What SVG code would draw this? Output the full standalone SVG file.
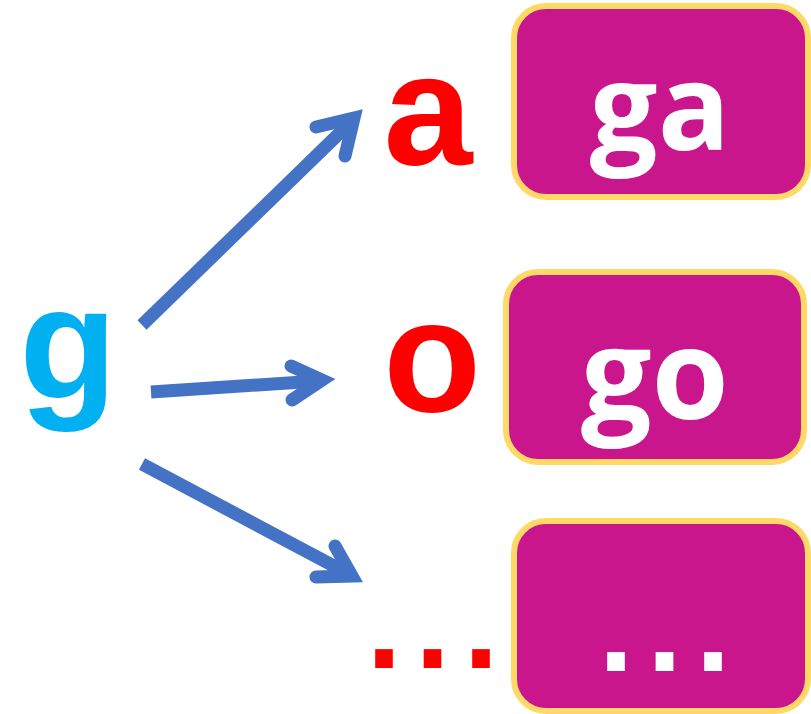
<svg xmlns="http://www.w3.org/2000/svg" width="811" height="714" viewBox="0 0 811 714">
<style>
.box{fill:#C9168C;stroke:#FFD966;stroke-width:6}
.lbl{font-family:"Open Sans","Noto Sans",sans-serif;font-weight:bold;fill:#FFFFFF;text-anchor:middle}
.ch{font-family:"Liberation Sans",Arial,sans-serif;font-weight:bold}
.dots{font-family:"DejaVu Sans",sans-serif;font-weight:bold;font-size:100px;letter-spacing:10.5px}
.shaft{stroke:#4472C4;stroke-width:13;fill:none;stroke-linecap:butt}
.head{stroke:#4472C4;stroke-width:13;fill:none;stroke-linecap:round;stroke-linejoin:miter;stroke-miterlimit:10}
</style>
<rect width="811" height="714" fill="#FFFFFF"/>
<g id="connectors">
<line class="shaft" x1="142" y1="325" x2="352" y2="121"/>
<polyline class="head" points="316,127 354,118 345,156"/>
<line class="shaft" x1="151" y1="392" x2="318" y2="381"/>
<polyline class="head" points="291,366 322,380 292,400"/>
<line class="shaft" x1="142" y1="464" x2="349" y2="574"/>
<polyline class="head" points="335,546 352,576 316,577"/>
</g>
<g id="node-g"><text class="ch" x="68" y="398" font-size="160" fill="#00B0F0" text-anchor="middle">g</text></g>
<g id="node-a"><text class="ch" x="428" y="164" font-size="160" fill="#FF0000" text-anchor="middle">a</text></g>
<g id="node-o"><text class="ch" x="432" y="411" font-size="160" fill="#FF0000" text-anchor="middle">o</text></g>
<g id="node-dots"><text class="dots" x="365" y="668" fill="#FF0000">...</text></g>
<g id="box-ga"><rect class="box" x="514" y="6" width="294" height="191" rx="32"/><text class="lbl" x="660" y="150" font-size="120">ga</text></g>
<g id="box-go"><rect class="box" x="506" y="272" width="298" height="190" rx="32"/><text class="lbl" x="655" y="419" font-size="125">go</text></g>
<g id="box-more"><rect class="box" x="514" y="521" width="294" height="190" rx="32"/><text class="dots" x="597" y="671" fill="#FFFFFF">...</text></g>
</svg>
